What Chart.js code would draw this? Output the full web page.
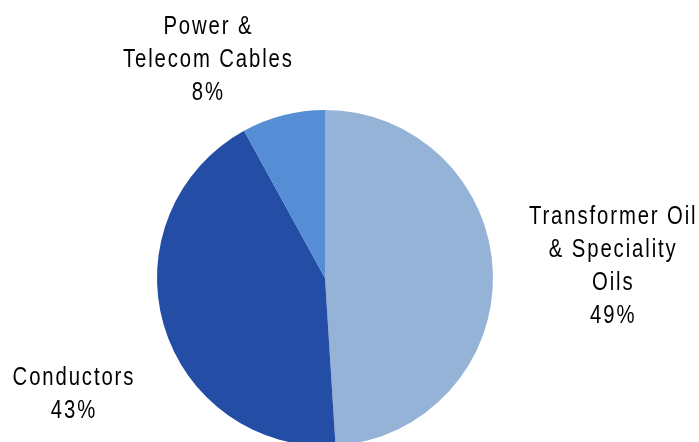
<!DOCTYPE html>
<html>
<head>
<meta charset="utf-8">
<script src="https://cdn.jsdelivr.net/npm/chart.js@4/dist/chart.umd.min.js"></script>
<style>
html,body{margin:0;padding:0;background:#fff;overflow:hidden;}
#wrap{width:699px;height:480px;}
</style>
</head>
<body>
<div id="wrap"><canvas id="c" width="699" height="480"></canvas></div>
<script>
const categories = ["Transformer Oil & Speciality Oils", "Conductors", "Power & Telecom Cables"];
const labelLines = [["Transformer Oil", "& Speciality", "Oils"], ["Conductors"], ["Power &", "Telecom Cables"]];
const shares = [49, 43, 8];
const colors = ["#95B3D7", "#244DA6", "#558ED5"];
// label block centre offsets, in units of pie radius
const labelOffsets = [[1.71, -0.08], [-1.50, 0.68], [-0.70, -1.31]];

const labelPlugin = {
  id: 'sliceLabels',
  afterDraw(chart) {
    const ctx = chart.ctx;
    const meta = chart.getDatasetMeta(0);
    const sx = 0.78, ls = 1.9;
    ctx.save();
    ctx.scale(sx, 1);
    ctx.font = '26px "Liberation Sans", Arial, sans-serif';
    if ('letterSpacing' in ctx) ctx.letterSpacing = (ls / sx) + 'px';
    ctx.fillStyle = '#000';
    ctx.textAlign = 'center';
    ctx.textBaseline = 'alphabetic';
    const lh = 33;
    meta.data.forEach((arc, i) => {
      const r = arc.outerRadius;
      const lines = labelLines[i].concat([shares[i] + '%']);
      const cx = arc.x + labelOffsets[i][0] * r;
      const cy = arc.y + labelOffsets[i][1] * r;
      const y0 = cy - (lines.length - 1) * lh / 2 + 9;
      lines.forEach((t, k) => ctx.fillText(t, (cx + ls / 2) / sx, y0 + k * lh));
    });
    ctx.restore();
  }
};

new Chart(document.getElementById('c'), {
  type: 'pie',
  data: {
    labels: categories,
    datasets: [{ data: shares, backgroundColor: colors, borderWidth: 0 }]
  },
  options: {
    responsive: false,
    animation: false,
    layout: { padding: { top: 110, bottom: 34, left: 157, right: 206 } },
    plugins: { legend: { display: false }, tooltip: { enabled: false } }
  },
  plugins: [labelPlugin]
});
</script>
</body>
</html>
